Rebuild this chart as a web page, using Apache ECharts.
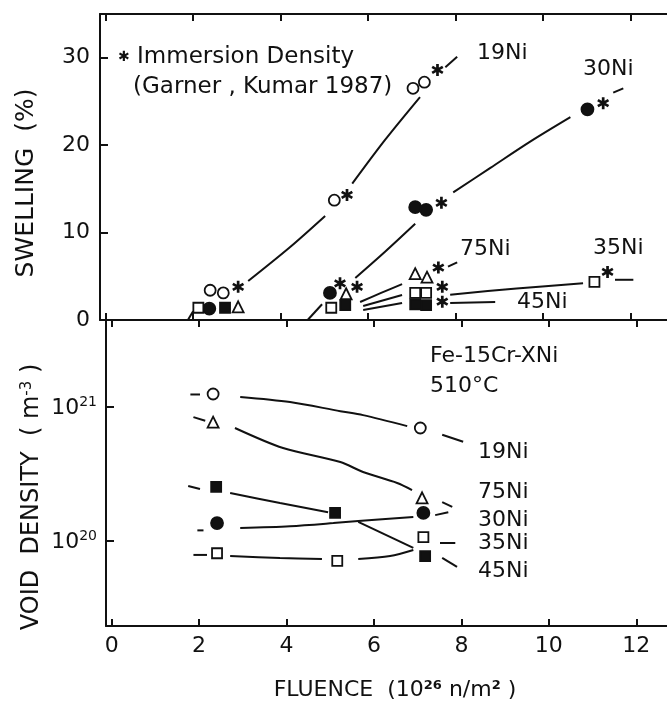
<!DOCTYPE html>
<html>
<head>
<meta charset="utf-8">
<script src="https://cdn.jsdelivr.net/npm/echarts@6/dist/echarts.min.js"></script>
<style>
html,body{margin:0;padding:0;background:#fff;}
#chart{width:667px;height:712px;}
</style>
</head>
<body>
<div id="chart"></div>
<script>
// ---------- tick values ----------
const fluenceTicks = [0, 2, 4, 6, 8, 10, 12];
const swellingTicks = [0, 10, 20, 30];
const densityTicks = [1e20, 1e21];

// ---------- text ----------
const alloyNames = ['19Ni', '30Ni', '75Ni', '35Ni', '45Ni'];
const immersionText = 'Immersion Density';
const sourceText = '(Garner , Kumar 1987)';
const alloyText = 'Fe-15Cr-XNi';
const tempText = '510°C';

// ---------- swelling (%) vs fluence (10^26 n/m^2) ----------
const sw19Ni = [[2.39, 3.4], [2.69, 3.1], [5.23, 13.7], [7.03, 26.5], [7.29, 27.2]];
const sw30Ni = [[2.37, 1.3], [5.13, 3.1], [7.08, 12.9], [7.33, 12.6], [11.02, 24.1]];
const sw75Ni = [[3.03, 1.5], [5.5, 3.0], [7.08, 5.3], [7.35, 4.9]];
const sw35Ni = [[2.12, 1.4], [5.16, 1.4], [7.08, 3.1], [7.33, 3.1], [11.18, 4.35]];
const sw45Ni = [[2.73, 1.4], [5.48, 1.7], [7.08, 1.8], [7.33, 1.7]];
const swImmersion = [[3.03, 3.8], [5.52, 14.3], [7.59, 28.6], [5.36, 4.2], [5.75, 3.8],
  [7.68, 13.4], [7.61, 6.0], [7.7, 3.8], [7.7, 2.1], [11.38, 24.8], [11.48, 5.5]];

// hand-drawn trend curves (segments)
const swFit19Ni = [[[3.26, 4.46], [4.22, 8.35], [5.02, 11.9]], [[5.64, 15.6], [6.39, 20.6], [7.19, 25.5]], [[7.77, 28.9], [8.04, 30.1]]];
const swFit30Ni = [[[4.62, 0], [4.95, 1.8]], [[5.71, 4.8], [6.39, 7.8], [7.08, 11.0]], [[7.95, 14.6], [8.8, 17.4], [9.71, 20.4], [10.63, 23.2]], [[11.61, 26.0], [11.84, 26.5]]];
const swFit75Ni = [[[5.82, 2.06], [6.3, 3.1], [6.78, 4.1]], [[7.83, 6.1], [8.04, 6.6]]];
const swFit35Ni = [[[1.88, 0], [2.0, 1.0]], [[5.89, 1.6], [6.78, 2.86]], [[7.88, 2.9], [9.4, 3.6], [10.92, 4.2]], [[11.65, 4.6], [12.07, 4.6]]];
const swFit45Ni = [[[5.89, 1.15], [6.78, 1.95]], [[7.88, 1.95], [8.91, 2.06]]];

// ---------- void density (m^-3) vs fluence ----------
const vd19Ni = [[2.32, 1.25e21], [7.06, 6.97e20]];
const vd75Ni = [[2.32, 7.7e20], [7.1, 2.1e20]];
const vd30Ni = [[2.41, 1.36e20], [7.13, 1.62e20]];
const vd35Ni = [[2.41, 8.1e19], [5.16, 7.1e19], [7.13, 1.07e20]];
const vd45Ni = [[2.39, 2.53e20], [5.11, 1.62e20], [7.17, 7.7e19]];

const vdFit19Ni = [[[1.8, 1.24e21], [2.02, 1.24e21]], [[2.94, 1.19e21], [4.08, 1.09e21], [5.23, 9.3e20], [5.75, 8.7e20], [6.76, 7.2e20]], [[7.56, 6.2e20], [8.04, 5.5e20]]];
const vdFit75Ni = [[[1.87, 8.4e20], [2.14, 7.9e20]], [[2.82, 6.97e20], [3.92, 4.94e20], [5.23, 3.89e20], [5.75, 3.27e20], [6.53, 2.71e20], [6.87, 2.4e20]], [[7.56, 1.95e20], [7.79, 1.8e20]]];
const vdFit30Ni = [[[1.96, 1.2e20], [2.1, 1.2e20]], [[2.94, 1.25e20], [4.08, 1.29e20], [5.07, 1.36e20], [5.64, 1.41e20], [6.9, 1.51e20]], [[7.4, 1.56e20], [7.7, 1.64e20]]];
const vdFit45Ni = [[[1.75, 2.57e20], [2.02, 2.44e20]], [[2.71, 2.28e20], [3.85, 1.92e20], [4.95, 1.64e20]], [[5.64, 1.39e20], [6.9, 8.87e19]], [[7.56, 7.47e19], [7.9, 6.4e19]]];
const vdFit35Ni = [[[1.87, 7.87e19], [2.18, 7.87e19]], [[2.71, 7.73e19], [3.85, 7.47e19], [4.81, 7.35e19]], [[5.64, 7.35e19], [6.37, 7.73e19], [6.9, 8.57e19]], [[7.51, 9.66e19], [7.86, 9.66e19]]];

// ---------- styling ----------
const INK = '#111';
const FONT = 'DejaVu Sans';
const STAR = 'path://M-2.2,-10 L2.2,-10 L2.2,10 L-2.2,10 Z M7.56,6.91 L-9.76,-3.09 L-7.56,-6.91 L9.76,3.09 Z M-9.76,3.09 L7.56,-6.91 L9.76,-3.09 L-7.56,6.91 Z';

const markerStyles = {
  '19Ni': { symbol: 'circle', size: 11, fill: '#fff' },
  '30Ni': { symbol: 'circle', size: 12, fill: INK },
  '75Ni': { symbol: 'triangle', size: 11, fill: '#fff' },
  '35Ni': { symbol: 'rect', size: 10, fill: '#fff' },
  '45Ni': { symbol: 'rect', size: 10, fill: INK }
};

function scatter(name, data, xi, yi) {
  const m = markerStyles[name];
  return {
    type: 'scatter', name: name, xAxisIndex: xi, yAxisIndex: yi, data: data,
    symbol: m.symbol, symbolSize: m.size, z: 5,
    itemStyle: { color: m.fill, borderColor: INK, borderWidth: 1.8, opacity: 1 },
    emphasis: { disabled: true }
  };
}
function curves(segs, xi, yi) {
  return segs.map(seg => ({
    type: 'line', data: seg, xAxisIndex: xi, yAxisIndex: yi,
    symbol: 'none', smooth: 0.3, z: 3,
    lineStyle: { color: INK, width: 2 }, emphasis: { disabled: true }
  }));
}

const X_MIN = -0.13, X_MAX = 13;
function xAxisCfg(grid, pos, labels) {
  return {
    type: 'value', gridIndex: grid, position: pos, min: X_MIN, max: X_MAX,
    axisLine: { show: true, onZero: false, lineStyle: { color: INK, width: 2 } },
    axisTick: { show: true, inside: true, length: 7, lineStyle: { color: INK, width: 2 }, customValues: fluenceTicks },
    axisLabel: { show: labels, customValues: fluenceTicks, margin: 9, color: INK, fontFamily: FONT, fontSize: 22 },
    splitLine: { show: false }
  };
}

const series = [].concat(
  curves(swFit19Ni, 0, 0), curves(swFit30Ni, 0, 0), curves(swFit75Ni, 0, 0),
  curves(swFit35Ni, 0, 0), curves(swFit45Ni, 0, 0),
  [scatter('19Ni', sw19Ni, 0, 0), scatter('30Ni', sw30Ni, 0, 0), scatter('75Ni', sw75Ni, 0, 0),
   scatter('35Ni', sw35Ni, 0, 0), scatter('45Ni', sw45Ni, 0, 0),
   { type: 'scatter', name: 'Immersion Density', data: swImmersion, xAxisIndex: 0, yAxisIndex: 0,
     symbol: STAR, symbolSize: 12, z: 6, itemStyle: { color: INK, opacity: 1 }, emphasis: { disabled: true } }],
  curves(vdFit19Ni, 2, 1), curves(vdFit75Ni, 2, 1), curves(vdFit30Ni, 2, 1),
  curves(vdFit45Ni, 2, 1), curves(vdFit35Ni, 2, 1),
  [scatter('19Ni', vd19Ni, 2, 1), scatter('75Ni', vd75Ni, 2, 1), scatter('30Ni', vd30Ni, 2, 1),
   scatter('35Ni', vd35Ni, 2, 1), scatter('45Ni', vd45Ni, 2, 1)]
);

function txt(x, y, text, size, extra) {
  return {
    type: 'text', x: x, y: y, z: 10,
    style: Object.assign({ text: text, fontFamily: FONT, fontSize: size, fill: INK, align: 'left', verticalAlign: 'middle' }, extra || {})
  };
}

const chart = echarts.init(document.getElementById('chart'), null, { renderer: 'canvas' });
chart.setOption({
  backgroundColor: '#fff',
  animation: false,
  tooltip: { show: false },
  grid: [
    { left: 100, top: 14, width: 574, height: 306, containLabel: false, outerBoundsMode: 'none' },
    { left: 106, top: 320, width: 574, height: 306, containLabel: false, outerBoundsMode: 'none' }
  ],
  xAxis: [
    xAxisCfg(0, 'bottom', false),
    xAxisCfg(0, 'top', false),
    xAxisCfg(1, 'bottom', true),
    xAxisCfg(1, 'top', false)
  ],
  yAxis: [
    {
      type: 'value', gridIndex: 0, min: 0, max: 35, position: 'left',
      axisLine: { show: true, onZero: false, lineStyle: { color: INK, width: 2 } },
      axisTick: { show: true, inside: true, length: 8, lineStyle: { color: INK, width: 2 }, customValues: swellingTicks },
      axisLabel: { customValues: swellingTicks, margin: 10, color: INK, fontFamily: FONT, fontSize: 22 },
      splitLine: { show: false }
    },
    {
      type: 'log', gridIndex: 1, min: 2.32e19, max: 4.46e21, logBase: 10, position: 'left',
      axisLine: { show: true, onZero: false, lineStyle: { color: INK, width: 2 } },
      axisTick: { show: true, inside: true, length: 8, lineStyle: { color: INK, width: 2 }, customValues: densityTicks },
      axisLabel: {
        customValues: densityTicks, margin: 9, color: INK,
        formatter: v => '{b|10}{s|' + Math.round(Math.log10(v)) + '}',
        rich: {
          b: { fontFamily: FONT, fontSize: 22, color: INK, lineHeight: 24, padding: [7, 0, 0, 0], verticalAlign: 'bottom' },
          s: { fontFamily: FONT, fontSize: 14, color: INK, lineHeight: 14, verticalAlign: 'top' }
        }
      },
      minorTick: { show: false },
      splitLine: { show: false }
    }
  ],
  series: series,
  graphic: [
    // axis titles
    { type: 'text', x: 26, y: 183, rotation: Math.PI / 2, z: 10,
      style: { text: 'SWELLING  (%)', fontFamily: FONT, fontSize: 25, fill: INK, align: 'center', verticalAlign: 'middle' } },
    { type: 'text', x: 32, y: 497, rotation: Math.PI / 2, z: 10,
      style: { text: 'VOID  DENSITY  ( m{s|-3} )', fontFamily: FONT, fontSize: 24, fill: INK, align: 'center', verticalAlign: 'middle',
               rich: { s: { fontFamily: FONT, fontSize: 15, fill: INK, verticalAlign: 'top' } } } },
    { type: 'text', x: 395, y: 690, z: 10,
      style: { text: 'FLUENCE  (10{s|26} n/m{s|2} )', fontFamily: FONT, fontSize: 22, fill: INK, align: 'center', verticalAlign: 'middle',
               rich: { s: { fontFamily: FONT, fontSize: 13, fontWeight: 'bold', fill: INK, verticalAlign: 'top' } } } },
    // legend note
    txt(118, 57, '{st|✱} ' + immersionText, 23, { rich: { st: { fontFamily: FONT, fontSize: 14, fill: INK } } }),
    txt(133, 87, sourceText, 23),
    // top panel curve labels
    txt(477, 53, alloyNames[0], 22),
    txt(583, 69, alloyNames[1], 22),
    txt(460, 249, alloyNames[2], 22),
    txt(593, 248, alloyNames[3], 22),
    txt(517, 302, alloyNames[4], 22),
    // bottom panel
    txt(430, 356, alloyText, 22),
    txt(430, 386, tempText, 22),
    txt(478, 452, alloyNames[0], 22),
    txt(478, 492, alloyNames[2], 22),
    txt(478, 520, alloyNames[1], 22),
    txt(478, 543, alloyNames[3], 22),
    txt(478, 571, alloyNames[4], 22)
  ]
});
</script>
</body>
</html>
